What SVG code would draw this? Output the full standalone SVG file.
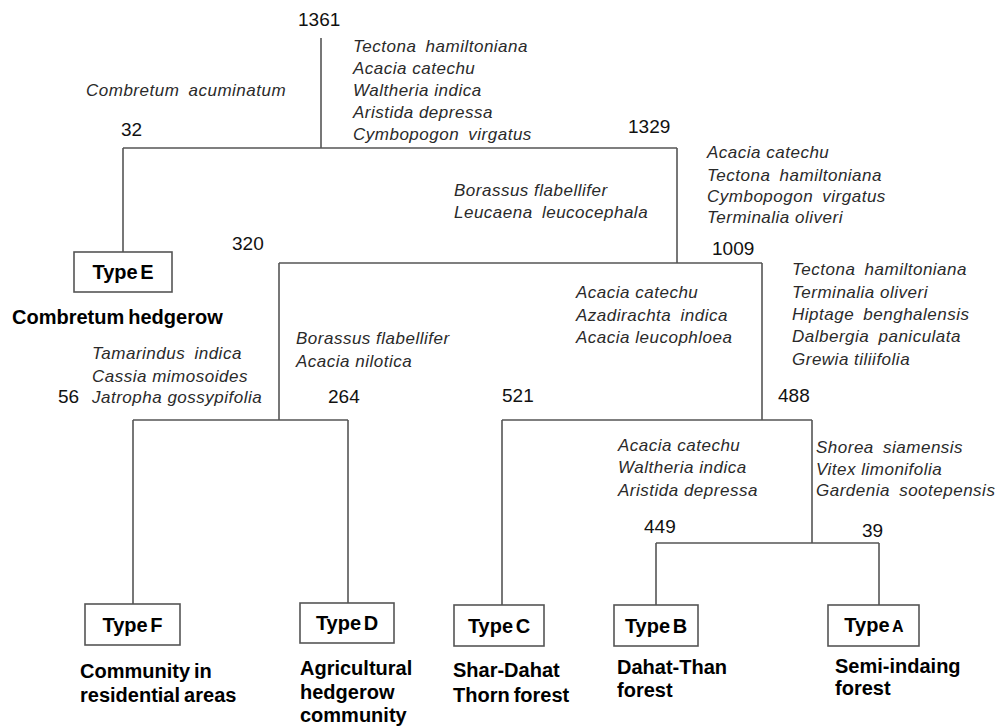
<svg xmlns="http://www.w3.org/2000/svg" width="997" height="728" viewBox="0 0 997 728">
<style>
text{font-family:"Liberation Sans",Arial,Helvetica,sans-serif}
.num{font-size:19px;fill:#111}
.sp{font-size:17px;font-style:italic;fill:#2a2a2a;letter-spacing:0.5px}
.w{word-spacing:4px}
.lbl{font-size:20px;font-weight:bold;fill:#000;word-spacing:-1.5px}
.typ{font-size:20px;font-weight:bold;fill:#000;text-anchor:middle;word-spacing:-3px}
.box{fill:#fff;stroke:#555;stroke-width:1.6}
.ln{fill:none;stroke:#555;stroke-width:1.6}
</style>
<rect width="997" height="728" fill="#fff"/>
<g id="connectors" class="ln">
<path d="M321 38V148"/>
<path d="M123 148H677"/>
<path d="M123 148V252"/>
<path d="M677 148V263"/>
<path d="M279 263H762"/>
<path d="M279 263V420"/>
<path d="M133 420H348"/>
<path d="M133 420V604"/>
<path d="M348 420V603"/>
<path d="M762 263V420"/>
<path d="M502 420H812"/>
<path d="M502 420V605"/>
<path d="M812 420V543"/>
<path d="M656 543H879"/>
<path d="M656 543V605"/>
<path d="M879 543V605"/>
</g>
<g id="node-1361">
<text class="num" x="298" y="26">1361</text>
<text class="sp w" x="353" y="52">Tectona hamiltoniana</text>
<text class="sp" x="353" y="74">Acacia catechu</text>
<text class="sp" x="353" y="96">Waltheria indica</text>
<text class="sp" x="353" y="118">Aristida depressa</text>
<text class="sp w" x="353" y="140">Cymbopogon virgatus</text>
</g>
<g id="node-32">
<text class="num" x="121" y="136">32</text>
<text class="sp w" x="86" y="96">Combretum acuminatum</text>
</g>
<g id="node-1329">
<text class="num" x="628" y="133">1329</text>
<text class="sp" x="707" y="158">Acacia catechu</text>
<text class="sp w" x="707" y="181">Tectona hamiltoniana</text>
<text class="sp w" x="707" y="202">Cymbopogon virgatus</text>
<text class="sp" x="707" y="223">Terminalia oliveri</text>
</g>
<g id="node-320">
<text class="num" x="232" y="250">320</text>
<text class="sp" x="454" y="196">Borassus flabellifer</text>
<text class="sp w" x="454" y="218">Leucaena leucocephala</text>
</g>
<g id="node-1009">
<text class="num" x="712" y="255">1009</text>
<text class="sp w" x="792" y="275">Tectona hamiltoniana</text>
<text class="sp" x="792" y="298">Terminalia oliveri</text>
<text class="sp w" x="792" y="320">Hiptage benghalensis</text>
<text class="sp w" x="792" y="342">Dalbergia paniculata</text>
<text class="sp" x="792" y="365">Grewia tiliifolia</text>
<text class="sp" x="576" y="298">Acacia catechu</text>
<text class="sp w" x="576" y="321">Azadirachta indica</text>
<text class="sp" x="576" y="343">Acacia leucophloea</text>
</g>
<g id="node-56">
<text class="num" x="58" y="403">56</text>
<text class="sp w" x="92" y="359">Tamarindus indica</text>
<text class="sp" x="92" y="382">Cassia mimosoides</text>
<text class="sp" x="92" y="403">Jatropha gossypifolia</text>
</g>
<g id="node-264">
<text class="num" x="328" y="403">264</text>
<text class="sp" x="296" y="344">Borassus flabellifer</text>
<text class="sp" x="296" y="367">Acacia nilotica</text>
</g>
<g id="node-521">
<text class="num" x="502" y="402">521</text>
</g>
<g id="node-488">
<text class="num" x="778" y="402">488</text>
<text class="sp w" x="816" y="453">Shorea siamensis</text>
<text class="sp" x="816" y="475">Vitex limonifolia</text>
<text class="sp w" x="816" y="496">Gardenia sootepensis</text>
</g>
<g id="node-449">
<text class="num" x="644" y="533">449</text>
<text class="sp" x="618" y="451">Acacia catechu</text>
<text class="sp" x="618" y="473">Waltheria indica</text>
<text class="sp" x="618" y="496">Aristida depressa</text>
</g>
<g id="node-39">
<text class="num" x="862" y="537">39</text>
</g>
<g id="type-e">
<rect class="box" x="74" y="252" width="98" height="40"/>
<text class="typ" x="123" y="279">Type E</text>
<text class="lbl" x="12" y="324">Combretum hedgerow</text>
</g>
<g id="type-f">
<rect class="box" x="85" y="604" width="95" height="41"/>
<text class="typ" x="132.5" y="632">Type F</text>
<text class="lbl" x="80" y="678">Community in</text>
<text class="lbl" x="80" y="702">residential areas</text>
</g>
<g id="type-d">
<rect class="box" x="300" y="603" width="94" height="40"/>
<text class="typ" x="347" y="630">Type D</text>
<text class="lbl" x="300" y="675">Agricultural</text>
<text class="lbl" x="300" y="699">hedgerow</text>
<text class="lbl" x="300" y="722">community</text>
</g>
<g id="type-c">
<rect class="box" x="454" y="605" width="90" height="41"/>
<text class="typ" x="499" y="633">Type C</text>
<text class="lbl" x="453" y="677">Shar-Dahat</text>
<text class="lbl" x="453" y="702">Thorn forest</text>
</g>
<g id="type-b">
<rect class="box" x="614" y="605" width="84" height="41"/>
<text class="typ" x="656" y="633">Type B</text>
<text class="lbl" x="617" y="674">Dahat-Than</text>
<text class="lbl" x="617" y="697">forest</text>
</g>
<g id="type-a">
<rect class="box" x="828" y="605" width="91" height="41"/>
<text class="typ" x="874" y="632">Type <tspan font-size="16">A</tspan></text>
<text class="lbl" x="835" y="673">Semi-indaing</text>
<text class="lbl" x="835" y="695">forest</text>
</g>
</svg>
